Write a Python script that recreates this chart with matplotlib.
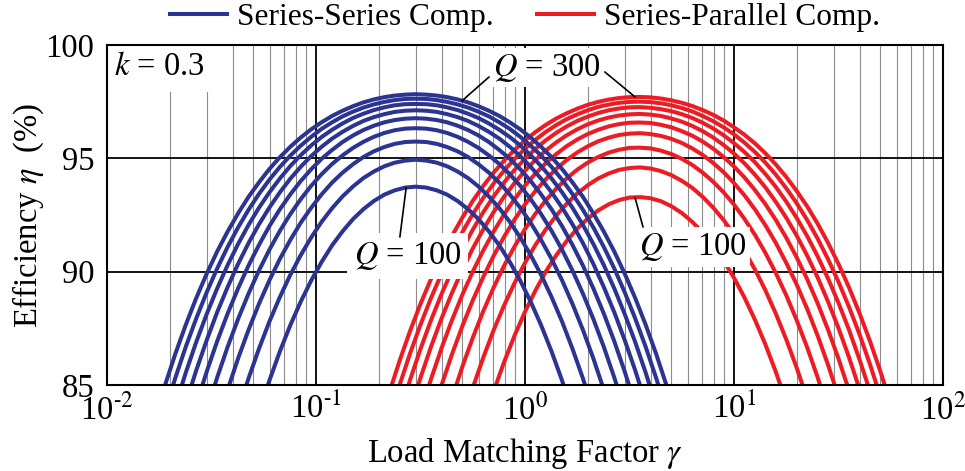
import matplotlib
matplotlib.use("Agg")
import matplotlib.pyplot as plt
from matplotlib.ticker import NullFormatter

# load matching factor for the series-series curves (peak near k = 0.3)
gamma_ss = [0.01504, 0.01687, 0.01893, 0.02124, 0.02383, 0.02674, 0.03, 0.03366, 0.03777,
            0.04238, 0.04755, 0.05335, 0.05986, 0.06716, 0.07536, 0.08455, 0.09487, 0.1064,
            0.1194, 0.134, 0.1504, 0.1687, 0.1893, 0.2124, 0.2383, 0.2674, 0.3, 0.3366,
            0.3777, 0.4238, 0.4755, 0.5335, 0.5986, 0.6716, 0.7536, 0.8455, 0.9487, 1.064,
            1.194, 1.34, 1.504, 1.687, 1.893, 2.124, 2.383, 2.674, 3.0, 3.366, 3.777,
            4.238, 4.755, 5.335, 5.986]

# load matching factor for the series-parallel curves (peak near 1/k)
gamma_sp = [0.1585, 0.1778, 0.1995, 0.2239, 0.2512, 0.2818, 0.3162, 0.3548, 0.3981,
            0.4467, 0.5012, 0.5623, 0.631, 0.7079, 0.7943, 0.8913, 1.0, 1.122, 1.259,
            1.413, 1.585, 1.778, 1.995, 2.239, 2.512, 2.818, 3.162, 3.548, 3.981, 4.467,
            5.012, 5.623, 6.31, 7.079, 7.943, 8.913, 10.0, 11.22, 12.59, 14.13, 15.85,
            17.78, 19.95, 22.39, 25.12, 28.18, 31.62, 35.48, 39.81, 44.67, 50.12, 56.23, 63.1]

q_values = [100, 125, 150, 175, 200, 225, 250, 275, 300]

# efficiency (%), series-series, Q = 100 ... 300
eta_ss = [
    [60.00, 62.71, 65.34, 67.88, 70.31, 72.62, 74.81, 76.87, 78.80, 80.60, 82.26, 83.80, 85.20,
     86.48, 87.64, 88.68, 89.61, 90.43, 91.16, 91.78, 92.32, 92.76, 93.12, 93.40, 93.59, 93.71,
     93.75, 93.71, 93.59, 93.40, 93.12, 92.76, 92.32, 91.78, 91.16, 90.43, 89.61, 88.68, 87.64,
     86.48, 85.20, 83.80, 82.26, 80.60, 78.80, 76.87, 74.81, 72.62, 70.31, 67.88, 65.34, 62.71, 60.00],
    [65.21, 67.76, 70.21, 72.54, 74.75, 76.83, 78.78, 80.60, 82.29, 83.85, 85.29, 86.60, 87.80,
     88.88, 89.86, 90.73, 91.51, 92.20, 92.80, 93.32, 93.76, 94.13, 94.42, 94.65, 94.81, 94.90,
     94.94, 94.90, 94.81, 94.65, 94.42, 94.13, 93.76, 93.32, 92.80, 92.20, 91.51, 90.73, 89.86,
     88.88, 87.80, 86.60, 85.29, 83.85, 82.29, 80.60, 78.78, 76.83, 74.75, 72.54, 70.21, 67.76, 65.21],
    [69.23, 71.61, 73.88, 76.02, 78.03, 79.92, 81.67, 83.30, 84.79, 86.17, 87.43, 88.58, 89.62,
     90.56, 91.40, 92.16, 92.82, 93.41, 93.93, 94.37, 94.74, 95.06, 95.31, 95.50, 95.64, 95.72,
     95.74, 95.72, 95.64, 95.50, 95.31, 95.06, 94.74, 94.37, 93.93, 93.41, 92.82, 92.16, 91.40,
     90.56, 89.62, 88.58, 87.43, 86.17, 84.79, 83.30, 81.67, 79.92, 78.03, 76.02, 73.88, 71.61, 69.23],
    [72.41, 74.64, 76.74, 78.72, 80.56, 82.28, 83.87, 85.33, 86.68, 87.91, 89.03, 90.05, 90.97,
     91.80, 92.54, 93.20, 93.79, 94.30, 94.75, 95.13, 95.46, 95.73, 95.95, 96.12, 96.24, 96.31,
     96.33, 96.31, 96.24, 96.12, 95.95, 95.73, 95.46, 95.13, 94.75, 94.30, 93.79, 93.20, 92.54,
     91.80, 90.97, 90.05, 89.03, 87.91, 86.68, 85.33, 83.87, 82.28, 80.56, 78.72, 76.74, 74.64, 72.41],
    [75.00, 77.08, 79.04, 80.87, 82.57, 84.14, 85.59, 86.93, 88.15, 89.26, 90.27, 91.18, 92.01,
     92.75, 93.41, 94.00, 94.52, 94.98, 95.37, 95.72, 96.01, 96.25, 96.44, 96.59, 96.69, 96.75,
     96.77, 96.75, 96.69, 96.59, 96.44, 96.25, 96.01, 95.72, 95.37, 94.98, 94.52, 94.00, 93.41,
     92.75, 92.01, 91.18, 90.27, 89.26, 88.15, 86.93, 85.59, 84.14, 82.57, 80.87, 79.04, 77.08, 75.00],
    [77.14, 79.10, 80.92, 82.62, 84.20, 85.65, 86.98, 88.21, 89.32, 90.34, 91.26, 92.09, 92.83,
     93.50, 94.10, 94.63, 95.10, 95.51, 95.87, 96.17, 96.43, 96.65, 96.82, 96.95, 97.05, 97.10,
     97.12, 97.10, 97.05, 96.95, 96.82, 96.65, 96.43, 96.17, 95.87, 95.51, 95.10, 94.63, 94.10,
     93.50, 92.83, 92.09, 91.26, 90.34, 89.32, 88.21, 86.98, 85.65, 84.20, 82.62, 80.92, 79.10, 77.14],
    [78.95, 80.78, 82.50, 84.08, 85.55, 86.90, 88.13, 89.26, 90.29, 91.22, 92.06, 92.82, 93.50,
     94.11, 94.66, 95.14, 95.57, 95.94, 96.26, 96.54, 96.78, 96.97, 97.13, 97.25, 97.34, 97.39,
     97.40, 97.39, 97.34, 97.25, 97.13, 96.97, 96.78, 96.54, 96.26, 95.94, 95.57, 95.14, 94.66,
     94.11, 93.50, 92.82, 92.06, 91.22, 90.29, 89.26, 88.13, 86.90, 85.55, 84.08, 82.50, 80.78, 78.95],
    [80.49, 82.22, 83.83, 85.32, 86.69, 87.94, 89.09, 90.14, 91.09, 91.95, 92.73, 93.43, 94.06,
     94.62, 95.12, 95.56, 95.95, 96.30, 96.59, 96.85, 97.06, 97.24, 97.38, 97.49, 97.57, 97.62,
     97.63, 97.62, 97.57, 97.49, 97.38, 97.24, 97.06, 96.85, 96.59, 96.30, 95.95, 95.56, 95.12,
     94.62, 94.06, 93.43, 92.73, 91.95, 91.09, 90.14, 89.09, 87.94, 86.69, 85.32, 83.83, 82.22, 80.49],
    [81.82, 83.46, 84.98, 86.38, 87.66, 88.84, 89.91, 90.89, 91.77, 92.57, 93.30, 93.94, 94.53,
     95.05, 95.51, 95.92, 96.28, 96.59, 96.87, 97.10, 97.30, 97.47, 97.60, 97.70, 97.77, 97.81,
     97.83, 97.81, 97.77, 97.70, 97.60, 97.47, 97.30, 97.10, 96.87, 96.59, 96.28, 95.92, 95.51,
     95.05, 94.53, 93.94, 93.30, 92.57, 91.77, 90.89, 89.91, 88.84, 87.66, 86.38, 84.98, 83.46, 81.82],
]

# efficiency (%), series-parallel, Q = 100 ... 300
eta_sp = [
    [56.56, 59.34, 62.06, 64.70, 67.25, 69.70, 72.02, 74.23, 76.31, 78.26, 80.07, 81.75, 83.30,
     84.72, 86.01, 87.18, 88.23, 89.17, 90.01, 90.73, 91.36, 91.90, 92.34, 92.70, 92.97, 93.16,
     93.27, 93.29, 93.24, 93.11, 92.89, 92.59, 92.20, 91.73, 91.16, 90.49, 89.73, 88.86, 87.88,
     86.79, 85.58, 84.24, 82.78, 81.19, 79.46, 77.60, 75.61, 73.48, 71.23, 68.87, 66.38, 63.80, 61.13],
    [61.96, 64.61, 67.18, 69.64, 71.99, 74.21, 76.31, 78.29, 80.13, 81.84, 83.42, 84.87, 86.20,
     87.42, 88.51, 89.50, 90.39, 91.18, 91.87, 92.48, 93.00, 93.45, 93.81, 94.11, 94.33, 94.49,
     94.57, 94.60, 94.55, 94.44, 94.26, 94.01, 93.70, 93.30, 92.83, 92.28, 91.64, 90.92, 90.10,
     89.18, 88.15, 87.01, 85.76, 84.39, 82.89, 81.27, 79.51, 77.63, 75.61, 73.46, 71.20, 68.81, 66.31],
    [66.16, 68.67, 71.07, 73.36, 75.52, 77.56, 79.46, 81.24, 82.89, 84.41, 85.80, 87.08, 88.25,
     89.30, 90.26, 91.11, 91.88, 92.56, 93.15, 93.67, 94.12, 94.50, 94.81, 95.06, 95.25, 95.38,
     95.46, 95.47, 95.44, 95.34, 95.19, 94.98, 94.71, 94.37, 93.97, 93.50, 92.96, 92.33, 91.63,
     90.83, 89.94, 88.96, 87.86, 86.66, 85.34, 83.90, 82.34, 80.65, 78.83, 76.88, 74.80, 72.60, 70.27],
    [69.53, 71.89, 74.14, 76.27, 78.27, 80.13, 81.87, 83.49, 84.97, 86.34, 87.59, 88.73, 89.76,
     90.70, 91.54, 92.30, 92.97, 93.56, 94.08, 94.54, 94.93, 95.26, 95.53, 95.75, 95.91, 96.03,
     96.09, 96.11, 96.07, 95.99, 95.86, 95.68, 95.44, 95.15, 94.80, 94.39, 93.91, 93.37, 92.75,
     92.05, 91.27, 90.39, 89.43, 88.36, 87.18, 85.89, 84.48, 82.95, 81.30, 79.52, 77.60, 75.56, 73.39],
    [72.28, 74.52, 76.62, 78.61, 80.46, 82.18, 83.78, 85.25, 86.61, 87.85, 88.98, 90.00, 90.93,
     91.77, 92.53, 93.20, 93.80, 94.33, 94.79, 95.19, 95.54, 95.83, 96.07, 96.26, 96.41, 96.51,
     96.57, 96.58, 96.56, 96.48, 96.37, 96.20, 96.00, 95.74, 95.43, 95.06, 94.64, 94.16, 93.60,
     92.98, 92.28, 91.50, 90.63, 89.67, 88.61, 87.44, 86.16, 84.77, 83.25, 81.61, 79.84, 77.95, 75.93],
    [74.58, 76.69, 78.67, 80.52, 82.25, 83.84, 85.32, 86.68, 87.92, 89.05, 90.08, 91.02, 91.86,
     92.63, 93.31, 93.91, 94.45, 94.93, 95.35, 95.71, 96.02, 96.28, 96.50, 96.67, 96.80, 96.89,
     96.94, 96.96, 96.93, 96.87, 96.76, 96.62, 96.43, 96.20, 95.92, 95.59, 95.21, 94.78, 94.28,
     93.72, 93.08, 92.38, 91.59, 90.71, 89.75, 88.68, 87.51, 86.23, 84.83, 83.32, 81.68, 79.91, 78.02],
    [76.53, 78.52, 80.39, 82.13, 83.74, 85.22, 86.59, 87.85, 89.00, 90.04, 90.99, 91.85, 92.62,
     93.32, 93.94, 94.49, 94.98, 95.42, 95.80, 96.13, 96.41, 96.65, 96.84, 97.00, 97.12, 97.20,
     97.25, 97.26, 97.23, 97.17, 97.08, 96.95, 96.78, 96.57, 96.32, 96.02, 95.67, 95.28, 94.83,
     94.31, 93.74, 93.09, 92.37, 91.57, 90.68, 89.70, 88.62, 87.44, 86.14, 84.74, 83.21, 81.55, 79.77],
    [78.20, 80.09, 81.85, 83.48, 85.00, 86.39, 87.66, 88.83, 89.90, 90.87, 91.74, 92.54, 93.25,
     93.89, 94.46, 94.97, 95.42, 95.82, 96.17, 96.47, 96.73, 96.94, 97.12, 97.27, 97.37, 97.45,
     97.49, 97.50, 97.48, 97.43, 97.34, 97.22, 97.07, 96.87, 96.64, 96.37, 96.06, 95.69, 95.28,
     94.81, 94.28, 93.68, 93.02, 92.28, 91.46, 90.55, 89.55, 88.45, 87.25, 85.93, 84.50, 82.95, 81.27],
    [79.65, 81.44, 83.11, 84.65, 86.07, 87.38, 88.58, 89.67, 90.66, 91.57, 92.38, 93.12, 93.78,
     94.37, 94.90, 95.37, 95.79, 96.16, 96.48, 96.76, 96.99, 97.19, 97.36, 97.49, 97.59, 97.66,
     97.70, 97.71, 97.69, 97.64, 97.56, 97.45, 97.31, 97.13, 96.92, 96.67, 96.37, 96.04, 95.66,
     95.22, 94.73, 94.18, 93.56, 92.88, 92.12, 91.27, 90.34, 89.31, 88.18, 86.95, 85.61, 84.14, 82.56],
]

x_ticks = [1e-2, 1e-1, 1e0, 1e1, 1e2]
x_tick_labels = ["10$^{\\text{-2}}$", "10$^{\\text{-1}}$", "10$^{\\text{0}}$",
                 "10$^{\\text{1}}$", "10$^{\\text{2}}$"]
y_ticks = [85, 90, 95, 100]

blue = "#2C3491"
red = "#ED1C24"

plt.rcParams["font.family"] = ["Liberation Serif", "DejaVu Serif"]
plt.rcParams["mathtext.fontset"] = "stix"
plt.rcParams["font.size"] = 23.5

fig = plt.figure(figsize=(9.65, 4.71), dpi=100)
ax = fig.add_axes([107 / 965, 1 - 385 / 471, 836 / 965, 340 / 471])
ax.set_xscale("log")

sp_lines = []
for i, q in enumerate(q_values):
    ln, = ax.plot(gamma_sp, eta_sp[i], color=red, lw=2.9, zorder=4)
    sp_lines.append(ln)
ss_lines = []
for i, q in enumerate(q_values):
    ln, = ax.plot(gamma_ss, eta_ss[i], color=blue, lw=2.9, zorder=5)
    ss_lines.append(ln)

ax.set_xlim(1e-2, 1e2)
ax.set_ylim(85, 100)
ax.set_xticks(x_ticks)
ax.set_xticklabels(x_tick_labels)
ax.xaxis.set_minor_formatter(NullFormatter())
ax.set_yticks(y_ticks)
ax.grid(True, which="major", color="black", lw=1.3)
ax.grid(True, which="minor", axis="x", color="#8c8c8c", lw=0.8)
ax.set_axisbelow(True)
ax.tick_params(which="both", length=0)
ax.tick_params(axis="x", pad=6)
ax.tick_params(axis="y", pad=9)
for s in ax.spines.values():
    s.set_linewidth(1.5)
    s.set_zorder(10)

ax.set_xlabel("Load Matching Factor $\\gamma$", labelpad=7)
ax.set_ylabel("Efficiency $\\eta$  (%)", labelpad=0)

ax.legend([ss_lines[0], sp_lines[0]], ["Series-Series Comp.", "Series-Parallel Comp."],
          loc="lower center", bbox_to_anchor=(0.5, 1.0), ncol=2, frameon=False, fontsize=22.6,
          borderaxespad=0.0, handlelength=1.8, handletextpad=0.32, columnspacing=1.4)

line_style = dict(arrowstyle="-", lw=1.2, color="black", shrinkA=0, shrinkB=0)

ax.text(0.008, 0.935, "$k$ = 0.3", transform=ax.transAxes, ha="left", va="center",
        bbox=dict(boxstyle="square,pad=0.3", fc="white", ec="none"), zorder=3)

ax.text(1.27, 99.0, "$Q$ = 300", ha="center", va="center", zorder=6,
        bbox=dict(boxstyle="square,pad=0.1", fc="white", ec="none"))
ax.annotate("", xy=(0.50, 97.54), xytext=(0.673, 98.59), arrowprops=line_style, zorder=7)
ax.annotate("", xy=(3.36, 97.71), xytext=(2.41, 98.81), arrowprops=line_style, zorder=7)

ax.text(0.275, 90.69, "$Q$ = 100", ha="center", va="center", zorder=6,
        bbox=dict(boxstyle="square,pad=0.2", fc="white", ec="none"))
ax.annotate("", xy=(0.27, 93.7), xytext=(0.252, 91.53), arrowprops=line_style, zorder=7)

ax.text(6.33, 91.07, "$Q$ = 100", ha="center", va="center", zorder=6,
        bbox=dict(boxstyle="square,pad=0.12", fc="white", ec="none"))
ax.annotate("", xy=(3.36, 93.27), xytext=(3.67, 91.97), arrowprops=line_style, zorder=7)

plt.savefig("out.png", dpi=100)
plt.close()
